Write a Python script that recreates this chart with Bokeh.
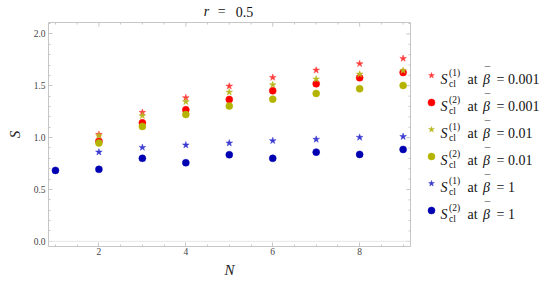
import numpy as np
from bokeh.plotting import figure
from bokeh.models import (Range1d, LinearAxis, SingleIntervalTicker, Span,
                          PrintfTickFormatter)
from bokeh.layouts import row, column
from bokeh.embed import file_html
from bokeh.resources import INLINE
from bokeh.core.properties import value

# ---------------- data ----------------
N_all = [1, 2, 3, 4, 5, 6, 7, 8, 9]
N = [2, 3, 4, 5, 6, 7, 8, 9]

s1_b0001 = [1.031, 1.243, 1.384, 1.496, 1.580, 1.650, 1.712, 1.763]
s2_b0001 = [0.966, 1.143, 1.269, 1.368, 1.452, 1.519, 1.577, 1.628]
s1_b001 = [1.018, 1.211, 1.346, 1.438, 1.510, 1.564, 1.612, 1.647]
s2_b001 = [0.947, 1.108, 1.223, 1.304, 1.371, 1.426, 1.471, 1.503]
s1_b1 = [0.860, 0.905, 0.928, 0.947, 0.970, 0.983, 1.002, 1.010]
s2_b1 = [0.684, 0.694, 0.800, 0.758, 0.835, 0.800, 0.860, 0.838, 0.886]

series_x = [N, N, N, N, N, N_all]
series_y = [s1_b0001, s2_b0001, s1_b001, s2_b001, s1_b1, s2_b1]
series_marker = ["star", "circle", "star", "circle", "star", "circle"]
series_color = ["#ff3b3b", "#ff0000", "#b8b820", "#b3b300", "#3a3ad0", "#0000b3"]

legend_sup = ["(1)", "(2)", "(1)", "(2)", "(1)", "(2)"]
legend_beta = ["0.001", "0.001", "0.01", "0.01", "1", "1"]

title_parts = ["r", "=", "0.5"]

x_major = 2
x_minor = 0.5
y_major = 0.5
y_minor = 0.1

X0, X1 = 0.84, 9.17
Y0, Y1 = -0.05, 2.11

SERIF = "Liberation Serif, Times New Roman, serif"
FRAME = "#c6c6c6"
INK = "#111111"


def bare(fig):
    fig.axis.visible = False
    fig.xgrid.visible = False
    fig.ygrid.visible = False
    fig.outline_line_color = None


# ---------------- title strip ----------------
tf = figure(width=420, height=22, output_backend="svg", toolbar_location=None,
            title_location=None,
            x_range=Range1d(X0, X1), y_range=Range1d(22, 0),
            min_border_left=48, min_border_right=10,
            min_border_top=0, min_border_bottom=0)
bare(tf)
ty = 11
tsz = "14px"
tf.text([5.0], [ty], text=[title_parts[0]], text_font=value(SERIF), text_font_style="italic",
        text_font_size=tsz, text_align="right", text_baseline="middle",
        x_offset=-20, text_color=INK)
tf.text([5.0], [ty], text=[title_parts[1]], text_font=value(SERIF),
        text_font_size=tsz, text_align="left", text_baseline="middle",
        x_offset=-11.5, text_color=INK)
tf.text([5.0], [ty], text=[title_parts[2]], text_font=value(SERIF),
        text_font_size=tsz, text_align="left", text_baseline="middle",
        x_offset=6.5, text_color=INK)

# ---------------- main plot ----------------
p = figure(width=420, height=260, output_backend="svg", toolbar_location=None,
           title_location=None,
           x_range=tf.x_range, y_range=Range1d(Y0, Y1),
           x_axis_location=None, y_axis_location=None,
           min_border_left=48, min_border_right=10,
           min_border_top=0, min_border_bottom=36)
p.outline_line_color = FRAME
p.xgrid.visible = False
p.ygrid.visible = False


def style_axis(ax):
    ax.axis_line_color = FRAME
    ax.major_tick_line_color = FRAME
    ax.minor_tick_line_color = FRAME
    ax.major_tick_in = 4
    ax.major_tick_out = 0
    ax.minor_tick_in = 2
    ax.minor_tick_out = 0
    ax.major_label_text_font = SERIF
    ax.major_label_text_color = "#444444"
    ax.major_label_text_font_size = "9.5px"
    ax.axis_label_text_font = SERIF
    ax.axis_label_text_font_style = "italic"
    ax.axis_label_text_font_size = "15px"
    ax.axis_label_text_color = "#222222"


xb = LinearAxis(ticker=SingleIntervalTicker(interval=x_major, num_minor_ticks=4),
                axis_label="N")
style_axis(xb)
xb.major_label_standoff = 1
xb.axis_label_standoff = 4
p.add_layout(xb, "below")

yl = LinearAxis(ticker=SingleIntervalTicker(interval=y_major, num_minor_ticks=5),
                axis_label="S", formatter=PrintfTickFormatter(format="%.1f"))
style_axis(yl)
yl.major_label_standoff = 3
yl.axis_label_standoff = 8
p.add_layout(yl, "left")

# inward ticks on the top and right frame edges
xt_major = np.arange(x_major, X1, x_major)
xt_minor = np.array([t for t in np.arange(1.0, X1, x_minor)
                     if abs(t / x_major - round(t / x_major)) > 1e-6])
yt_major = np.arange(0.0, Y1, y_major)
yt_minor = np.array([t for t in np.arange(0.0, Y1, y_minor)
                     if abs(t / y_major - round(t / y_major)) > 1e-6])

p.ray(x=xt_major, y=[Y1] * len(xt_major), length=4, length_units="screen",
      angle=-np.pi / 2, line_color=FRAME, line_width=1)
p.ray(x=xt_minor, y=[Y1] * len(xt_minor), length=2, length_units="screen",
      angle=-np.pi / 2, line_color=FRAME, line_width=1)
p.ray(x=[X1] * len(yt_major), y=yt_major, length=4, length_units="screen",
      angle=np.pi, line_color=FRAME, line_width=1)
p.ray(x=[X1] * len(yt_minor), y=yt_minor, length=2, length_units="screen",
      angle=np.pi, line_color=FRAME, line_width=1)

p.add_layout(Span(location=0, dimension="width", line_color="#e6e6e6", line_width=1))

for xs, ys, mk, col in zip(series_x, series_y, series_marker, series_color):
    size = 7 if mk == "star" else 7
    p.scatter(xs, ys, marker=mk, size=size, fill_color=col, line_color=col,
              line_width=0.5)

# ---------------- legend panel ----------------
lg = figure(width=125, height=282, output_backend="svg", toolbar_location=None,
            title_location=None,
            x_range=Range1d(0, 125), y_range=Range1d(282, 0),
            min_border_left=0, min_border_right=0,
            min_border_top=0, min_border_bottom=0)
bare(lg)

row_y0 = 75
row_dy = 27
mx = 11
tx = 20
fs = "14px"
for i, (mk, col, sup, beta) in enumerate(zip(series_marker, series_color, legend_sup, legend_beta)):
    y = row_y0 + i * row_dy
    lg.scatter([mx], [y], marker=mk, size=6 if mk == "star" else 7,
               fill_color=col, line_color=col, line_width=0.5)
    lg.text([tx], [y + 4], text=["S"], text_font=value(SERIF), text_font_style="italic",
            text_font_size=fs, text_baseline="alphabetic", text_color=INK)
    lg.text([tx + 8.5], [y - 3], text=[sup], text_font=value(SERIF),
            text_font_size="9.5px", text_baseline="alphabetic", text_color=INK)
    lg.text([tx + 8.5], [y + 8], text=["cl"], text_font=value(SERIF),
            text_font_size="9.5px", text_baseline="alphabetic", text_color=INK)
    lg.text([tx + 27], [y + 4], text=["at"], text_font=value(SERIF),
            text_font_size=fs, text_baseline="alphabetic", text_color=INK)
    lg.text([tx + 46], [y + 4], text=["\u03b2"], text_font=value(SERIF),
            text_font_style="italic", text_align="center",
            text_font_size=fs, text_baseline="alphabetic", text_color=INK)
    lg.text([tx + 47], [y - 6], text=["\u00af"], text_font=value(SERIF),
            text_align="center",
            text_font_size="11px", text_baseline="alphabetic", text_color=INK)
    lg.text([tx + 56], [y + 4], text=["= " + beta], text_font=value(SERIF),
            text_font_size=fs, text_baseline="alphabetic", text_color=INK)

layout = row(column(tf, p), lg)
open("out.html", "w").write(file_html(layout, INLINE))
